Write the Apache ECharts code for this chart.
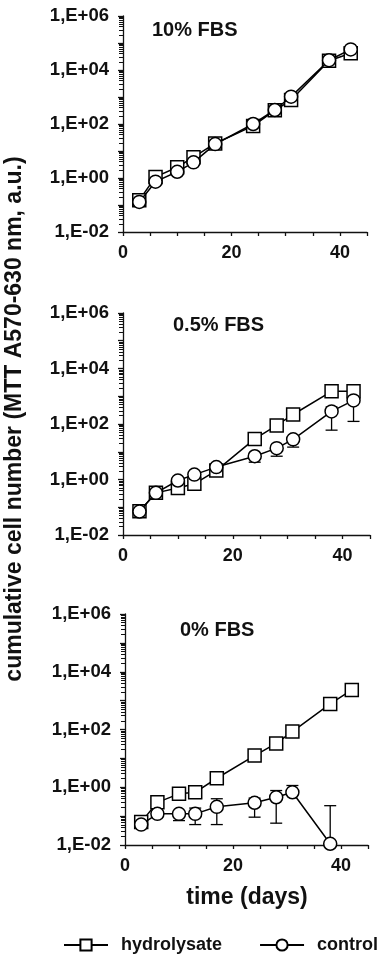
<!DOCTYPE html>
<html><head><meta charset="utf-8">
<script src="https://cdn.jsdelivr.net/npm/echarts@6/dist/echarts.min.js"></script>
<style>html,body{margin:0;padding:0;background:#fff;}#c{width:388px;height:955px;}</style>
</head><body><div id="c"></div>
<script>
// ---- data ----
const days = [3, 6, 10, 13, 17, 24, 28, 31, 38, 42];
const panelTitles = ['10% FBS', '0.5% FBS', '0% FBS'];
const seriesNames = ['hydrolysate', 'control'];

const hydro10 = [0.15, 1.1, 2.5, 5.9, 19, 85, 320, 770, 22000, 42000];
const ctrl10  = [0.13, 0.73, 1.7, 3.8, 18, 100, 330, 1030, 23000, 58000];

const hydro05 = [0.072, 0.33, 0.49, 0.7, 2.1, 29, 89, 220, 1500, 1500];
const ctrl05  = [0.07, 0.33, 0.92, 1.5, 2.8, 6.9, 13.5, 28, 285, 710];
const ctrl05Low  = [null, null, null, null, null, 4.2, 6.9, 14.7, 60, 124];
const ctrl05High = [null, null, null, null, null, null, null, null, 410, null];

const hydro0 = [0.062, 0.30, 0.59, 0.67, 2.05, 12.5, 33, 85, 770, 2350];
const ctrl0  = [0.051, 0.12, 0.12, 0.12, 0.21, 0.29, 0.45, 0.67, 0.011];
const ctrl0Low  = [null, null, 0.07, 0.051, 0.051, 0.092, 0.057, null, null];
const ctrl0High = [null, null, null, 0.19, 0.40, 0.42, 0.77, 1.15, 0.23];

const xTickValues = [0, 20, 40];
const xTickLabels = ['0', '20', '40'];
const yTickValues = [0.01, 1, 100, 10000, 1000000];
const yTickLabels = ['1,E-02', '1,E+00', '1,E+02', '1,E+04', '1,E+06'];
const yAxisTitle = 'cumulative cell number (MTT A570-630 nm, a.u.)';
const xAxisTitle = 'time (days)';

// ---- build ----
const FONT = '"Liberation Sans", Arial, sans-serif';
const INK = '#111';
const panels = [
  {h: hydro10, c: ctrl10, lo: null, hi: null},
  {h: hydro05, c: ctrl05, lo: ctrl05Low, hi: ctrl05High},
  {h: hydro0, c: ctrl0, lo: ctrl0Low, hi: ctrl0High}
];
const grids = [
  {left: 123, top: 16, width: 244, height: 216},
  {left: 123, top: 313, width: 247, height: 222},
  {left: 125, top: 614, width: 243, height: 231}
];
const titlePos = [[152, 30], [173, 325], [180, 630]];

const minorVals = [];
for (let e = -2; e < 6; e++) for (let k = 2; k <= 9; k++) minorVals.push(+(k * Math.pow(10, e)).toPrecision(3));

function yFmt(v) {
  const i = yTickValues.findIndex(t => Math.abs(Math.log10(t) - Math.log10(v)) < 1e-6);
  return i >= 0 ? yTickLabels[i] : '';
}
function xFmt(v) {
  const i = xTickValues.indexOf(v);
  return i >= 0 ? xTickLabels[i] : '';
}
const axisLine = {show: true, lineStyle: {color: INK, width: 1.3}};

const xAxes = [], yAxes = [], series = [];
grids.forEach((g, i) => {
  xAxes.push({
    type: 'value', gridIndex: i, min: 0, max: 45, interval: 5,
    axisLine: axisLine, splitLine: {show: false},
    axisTick: {show: true, length: 4, lineStyle: {color: INK, width: 1.3}},
    axisLabel: {formatter: xFmt, fontSize: 18, fontWeight: 'bold', color: INK, fontFamily: FONT, margin: 12}
  });
  yAxes.push({
    type: 'log', logBase: 10, gridIndex: i, min: 0.01, max: 1000000, position: 'left',
    axisLine: axisLine, splitLine: {show: false},
    axisTick: {show: true, length: 5, lineStyle: {color: INK, width: 1.3}},
    axisLabel: {formatter: yFmt, fontSize: 18.5, fontWeight: 'bold', color: INK, fontFamily: FONT, margin: 14}
  });
});
grids.forEach((g, i) => {
  yAxes.push({
    type: 'log', logBase: 10, gridIndex: i, min: 0.01, max: 1000000, position: 'left', offset: 0,
    axisLine: {show: false}, splitLine: {show: false}, axisLabel: {show: false},
    axisTick: {show: true, length: 4, customValues: minorVals, lineStyle: {color: INK, width: 1}}
  });
});

const markerStyle = {color: '#fff', borderColor: '#000', borderWidth: 1.5};
const lineStyle = {color: '#000', width: 1.5};

function renderErr(params, api) {
  const x = api.value(0), v = api.value(1), lo = api.value(2), hi = api.value(3);
  const pl = api.coord([x, lo]), ph = api.coord([x, hi]);
  const st = {stroke: '#000', lineWidth: 1.3};
  const cap = 6;
  const ch = [{type: 'line', shape: {x1: pl[0], y1: pl[1], x2: ph[0], y2: ph[1]}, style: st}];
  if (lo < v) ch.push({type: 'line', shape: {x1: pl[0] - cap, y1: pl[1], x2: pl[0] + cap, y2: pl[1]}, style: st});
  if (hi > v) ch.push({type: 'line', shape: {x1: ph[0] - cap, y1: ph[1], x2: ph[0] + cap, y2: ph[1]}, style: st});
  return {type: 'group', children: ch};
}

panels.forEach((p, i) => {
  series.push({
    type: 'line', name: seriesNames[0], xAxisIndex: i, yAxisIndex: i,
    data: p.h.map((v, k) => [days[k], v]),
    symbol: 'rect', symbolSize: 13, showAllSymbol: true, clip: false,
    itemStyle: markerStyle, lineStyle: lineStyle, z: 2
  });
  if (p.lo) {
    const ed = [];
    p.c.forEach((v, k) => {
      if (p.lo[k] != null || p.hi[k] != null) {
        ed.push([days[k], v, p.lo[k] != null ? p.lo[k] : v, p.hi[k] != null ? p.hi[k] : v]);
      }
    });
    series.push({
      type: 'custom', name: 'err' + i, xAxisIndex: i, yAxisIndex: i,
      coordinateSystem: 'cartesian2d', data: ed, renderItem: renderErr, clip: false, z: 2,
      encode: {x: 0, y: [1, 2, 3]}
    });
  }
  series.push({
    type: 'line', name: seriesNames[1], xAxisIndex: i, yAxisIndex: i,
    data: p.c.map((v, k) => [days[k], v]),
    symbol: 'circle', symbolSize: 13, showAllSymbol: true, clip: false,
    itemStyle: markerStyle, lineStyle: lineStyle, z: 3
  });
});

const graphics = [];
panelTitles.forEach((t, i) => {
  graphics.push({type: 'text', x: titlePos[i][0], y: titlePos[i][1],
    style: {text: t, fontSize: 20, fontWeight: 'bold', fontFamily: FONT, fill: INK, textAlign: 'left', textVerticalAlign: 'middle'}});
});
graphics.push({type: 'text', x: 15, y: 419, rotation: Math.PI / 2,
  style: {text: yAxisTitle, fontSize: 23, fontWeight: 'bold', fontFamily: FONT, fill: INK, textAlign: 'center', textVerticalAlign: 'middle'}});
graphics.push({type: 'text', x: 247, y: 898,
  style: {text: xAxisTitle, fontSize: 23, fontWeight: 'bold', fontFamily: FONT, fill: INK, textAlign: 'center', textVerticalAlign: 'middle'}});

const chart = echarts.init(document.getElementById('c'), null, {renderer: 'canvas'});
chart.setOption({
  animation: false,
  backgroundColor: '#fff',
  grid: grids.map(g => Object.assign({outerBoundsMode: 'none', containLabel: false}, g)),
  xAxis: xAxes,
  yAxis: yAxes,
  legend: {
    data: seriesNames, top: 936, left: 63, padding: 0, itemWidth: 44, itemHeight: 14, itemGap: 37,
    textStyle: {fontSize: 18, fontWeight: 'bold', color: INK, fontFamily: FONT, padding: [0, 0, 0, 8]}
  },
  graphic: graphics,
  series: series
});
</script></body></html>
